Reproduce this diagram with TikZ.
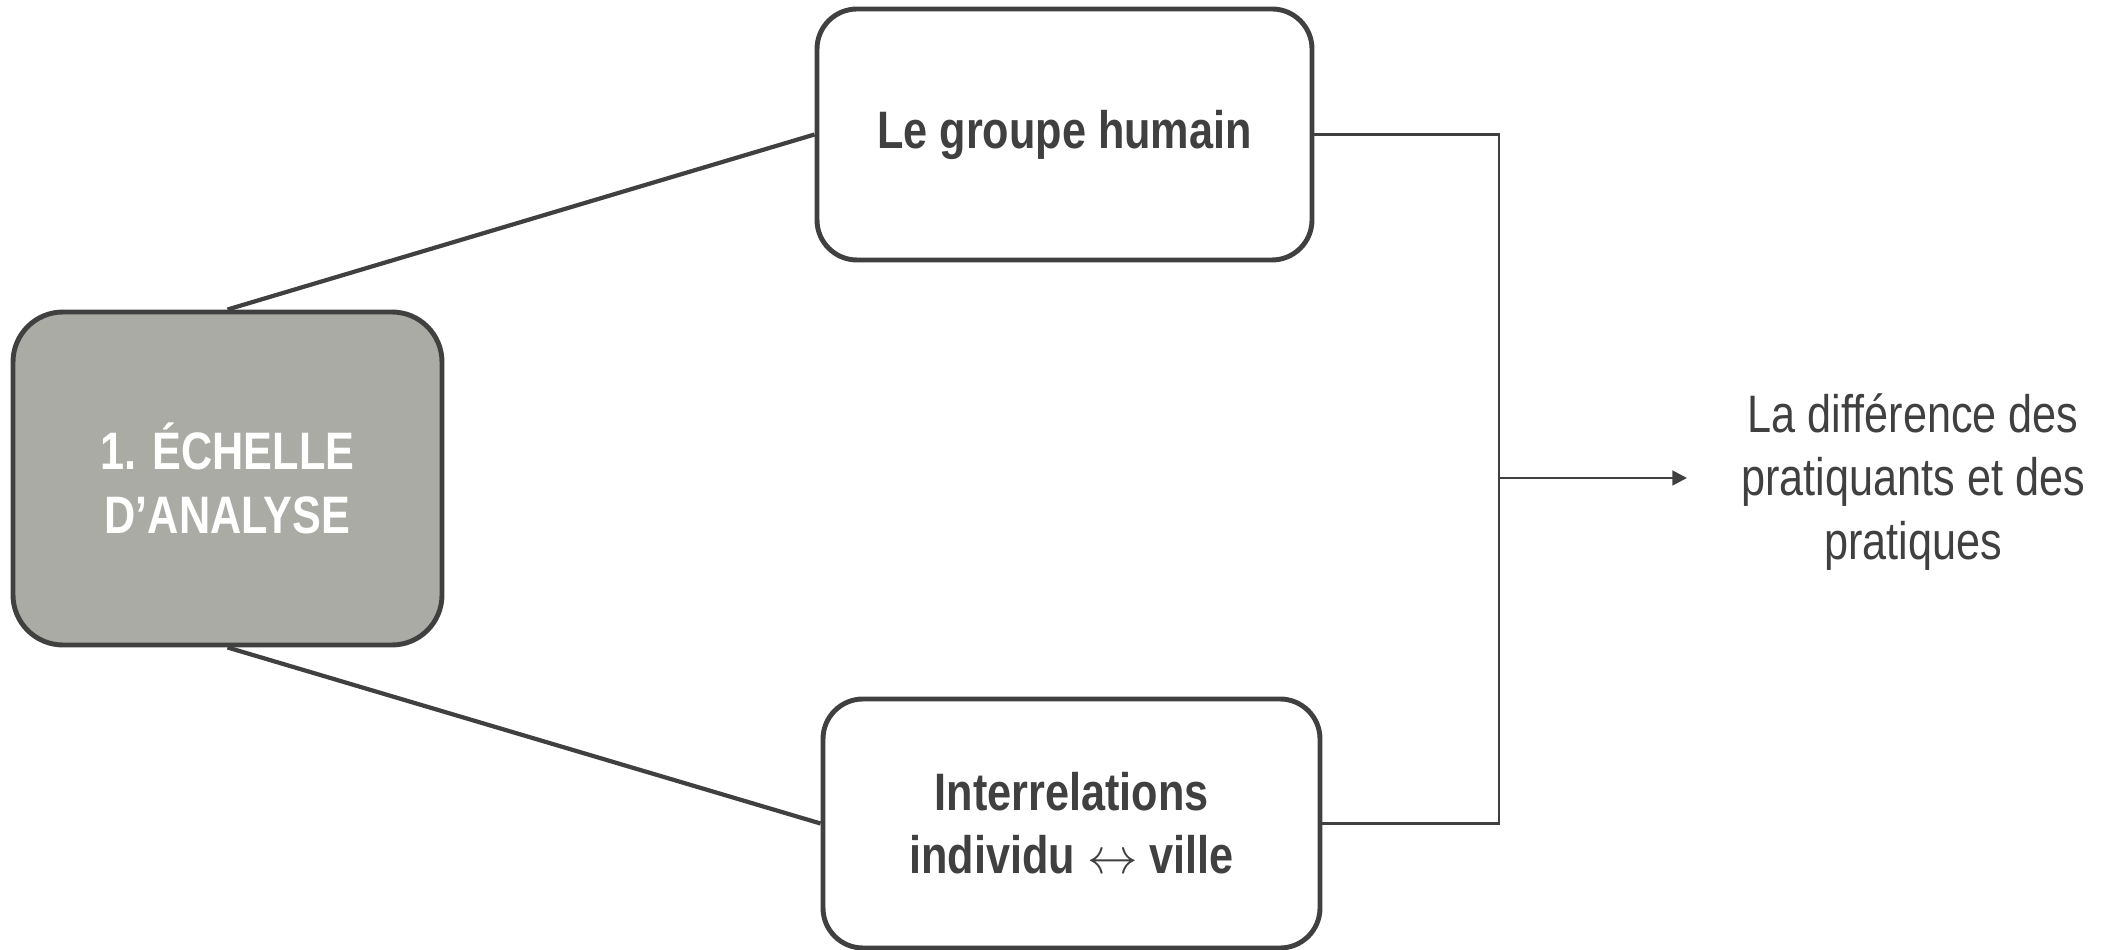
\documentclass[tikz,border=0pt]{standalone}
\usepackage{fontspec}
\setmainfont{Liberation Sans}[FakeStretch=0.82]
\usepackage{tikz}
\usetikzlibrary{arrows.meta}
\definecolor{encre}{HTML}{404040}
\definecolor{gris}{HTML}{ABABA6}

\begin{document}
\begin{tikzpicture}[
	boite/.style = {draw=encre, line width=1.4pt, rounded corners=0.4cm, fill=white, text=encre, align=center, font=\fontsize{15}{18}\selectfont\bfseries},
	echelle/.style = {boite, fill=gris, text=white, rounded corners=0.5cm},
	lien/.style = {draw=encre, line width=0.75pt},
	fleche/.style = {lien, -{Triangle[length=4.2pt, width=4.2pt]}}]
\useasboundingbox (0, 0) rectangle (21.05, 9.5);

\node[echelle, minimum width=4.29cm, minimum height=3.33cm] (scale) at (2.275, 4.715) {1. ÉCHELLE\\D’ANALYSE};
\node[boite, minimum width=4.95cm, minimum height=2.51cm] (groupe) at (10.645, 8.155) {Le groupe humain};
\node[boite, minimum width=4.97cm, minimum height=2.49cm] (inter) at (10.715, 1.265) {Interrelations\\individu $\leftrightarrow$ ville};
\node[text=encre, align=center, font=\fontsize{15}{18}\selectfont] (result) at (19.13, 4.68) {La différence des\\pratiquants et des\\pratiques};

\draw[draw=encre, line width=1.2pt] (scale.north) -- (groupe.west);
\draw[draw=encre, line width=1.2pt] (scale.south) -- (inter.west);

\coordinate (jonc) at (14.99, 4.72);
\coordinate (pointe) at (16.87, 4.72);
\draw[lien] (groupe.east) -| (jonc) |- (inter.east);
\draw[fleche] (jonc) -- (pointe);
\end{tikzpicture}
\end{document}
